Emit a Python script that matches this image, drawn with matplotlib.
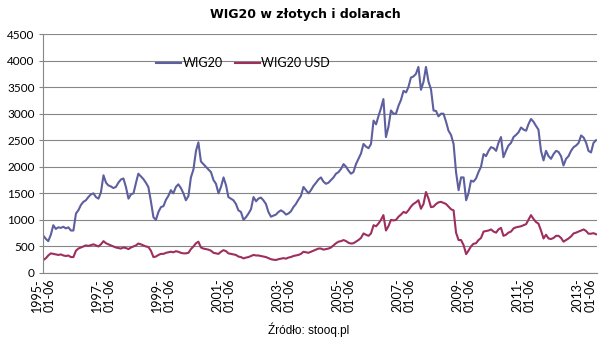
import matplotlib
matplotlib.use("Agg")
import matplotlib.pyplot as plt
import pandas as pd

# monthly readings, 1995-01 .. 2013-06
wig20 = [
    700, 640, 600, 720, 900, 830, 860, 850, 870, 840, 860, 800,          # 1995
    800, 1120, 1180, 1280, 1340, 1370, 1430, 1480, 1500, 1430, 1400, 1520,  # 1996
    1840, 1700, 1650, 1630, 1600, 1620, 1700, 1760, 1780, 1620, 1400, 1480,  # 1997
    1500, 1700, 1870, 1820, 1770, 1700, 1620, 1350, 1050, 1000, 1150, 1240,  # 1998
    1260, 1380, 1450, 1560, 1500, 1620, 1670, 1600, 1500, 1370, 1450, 1800,  # 1999
    1950, 2300, 2460, 2100, 2050, 2000, 1950, 1900, 1750, 1680, 1500, 1620,  # 2000
    1800, 1650, 1430, 1400, 1370, 1300, 1180, 1150, 1000, 1050, 1120, 1200,  # 2001
    1430, 1350, 1400, 1420, 1370, 1300, 1150, 1060, 1080, 1100, 1150, 1180,  # 2002
    1150, 1100, 1120, 1160, 1240, 1300, 1380, 1450, 1620, 1560, 1500, 1560,  # 2003
    1640, 1700, 1760, 1800, 1720, 1680, 1700, 1750, 1800, 1870, 1900, 1960,  # 2004
    2050, 2000, 1930, 1870, 1900, 2050, 2150, 2250, 2430, 2380, 2350, 2430,  # 2005
    2870, 2800, 2950, 3100, 3275, 2560, 2750, 3060, 3000, 3000, 3150, 3260,  # 2006
    3430, 3400, 3500, 3680, 3700, 3750, 3880, 3450, 3600, 3880, 3600, 3460,  # 2007
    3060, 3050, 2950, 3000, 3000, 2850, 2680, 2600, 2430, 1900, 1560, 1800,  # 2008
    1800, 1370, 1500, 1740, 1720, 1780, 1900, 2000, 2240, 2200, 2300, 2370,  # 2009
    2350, 2300, 2450, 2560, 2180, 2300, 2400, 2450, 2560, 2600, 2650, 2740,  # 2010
    2700, 2680, 2800, 2900, 2850, 2770, 2700, 2300, 2120, 2300, 2200, 2150,  # 2011
    2240, 2300, 2280, 2200, 2025, 2150, 2200, 2300, 2370, 2400, 2450, 2590,  # 2012
    2550, 2450, 2300, 2270, 2450, 2500,                                      # 2013
]
wig20_usd = [
    245, 280, 330, 370, 360, 350, 340, 350, 330, 320, 330, 300,
    300, 420, 460, 480, 500, 520, 510, 525, 540, 520, 500, 540,
    600, 560, 540, 520, 500, 480, 470, 460, 480, 470, 450, 480,
    500, 520, 555, 540, 520, 500, 490, 420, 300, 310, 340, 360,
    360, 380, 390, 400, 390, 410, 400, 380, 370, 370, 380, 450,
    500, 560, 590, 480, 460, 450, 440, 420, 380, 370, 360, 400,
    430, 410, 370, 360, 350, 340, 310, 300, 275, 290, 300, 320,
    340, 330, 330, 320, 310, 300, 280, 260, 250, 245, 260, 270,
    280, 270, 290, 300, 320, 330, 340, 360, 400, 390, 380, 400,
    420, 440, 460, 460, 440, 450, 460, 480, 520, 560, 590, 600,
    620, 600, 570, 555, 560, 590, 620, 660, 745, 720, 700, 745,
    900, 880, 930, 1000, 1090, 800, 880, 1000, 990, 1000, 1060, 1100,
    1150, 1130, 1180, 1250, 1300, 1330, 1370, 1210, 1300, 1525, 1400, 1240,
    1250, 1300, 1330, 1340, 1320, 1300, 1250, 1200, 1180, 760, 620, 620,
    525, 355, 420, 500, 550, 560, 620, 660, 780, 790, 800, 820,
    780, 760, 820, 850, 700, 720, 760, 780, 840, 860, 870, 880,
    900, 920, 1000, 1090, 1020, 960, 930, 800, 650, 720, 650, 640,
    660, 700, 700, 660, 590, 620, 650, 690, 745, 760, 780, 800,
    820, 790, 740, 740, 750, 730,
]
dates = pd.date_range("1995-01-01", periods=len(wig20), freq="MS") + pd.Timedelta(days=5)
tick_dates = pd.to_datetime(["1995-01-06", "1997-01-06", "1999-01-06", "2001-01-06",
                             "2003-01-06", "2005-01-06", "2007-01-06", "2009-01-06",
                             "2011-01-06", "2013-01-06"])
tick_labels = [d.strftime("%Y-\n%m-%d") for d in tick_dates]

fig = plt.figure(figsize=(6.11, 3.45), dpi=100)
ax = fig.add_axes([0.0704, 0.2087, 0.907, 0.6927])

ax.plot(dates, wig20, color="#5D5F9E", lw=1.5, label="WIG20")
ax.plot(dates, wig20_usd, color="#9E2E5E", lw=1.5, label="WIG20 USD")

ax.set_ylim(0, 4500)
ax.set_yticks(range(0, 4501, 500))
ax.set_xlim(pd.Timestamp("1995-01-01"), pd.Timestamp("2013-06-20"))
ax.set_xticks(tick_dates)
ax.set_xticklabels(tick_labels, rotation=90, fontsize=9, family="Lato",
                   va="top", ha="center", linespacing=1.1)
ax.tick_params(axis="x", length=0, pad=4)
ax.tick_params(axis="y", length=3, color="#868686", labelsize=8.5, pad=3)
for t in ax.get_yticklabels():
    t.set_family("Lato")

ax.grid(axis="y", color="#868686", lw=0.8)
ax.set_axisbelow(True)
for s in ["top", "right"]:
    ax.spines[s].set_visible(False)
for s in ["left", "bottom"]:
    ax.spines[s].set_color("#868686")
    ax.spines[s].set_linewidth(0.8)

ax.legend(loc="upper left", bbox_to_anchor=(0.195, 0.925), ncol=2, frameon=False,
          prop={"family": "Lato", "size": 9}, handlelength=2.0, handletextpad=0.1,
          columnspacing=1.0, borderaxespad=0)

fig.text(0.5, 0.957, "WIG20 w złotych i dolarach", ha="center", va="center",
         fontsize=9, fontweight="bold", family="Liberation Sans Narrow")
fig.text(0.505, 0.045, "Źródło: stooq.pl", ha="center", va="center",
         fontsize=8.5, family="Liberation Sans")

fig.savefig("out.png", dpi=100)
